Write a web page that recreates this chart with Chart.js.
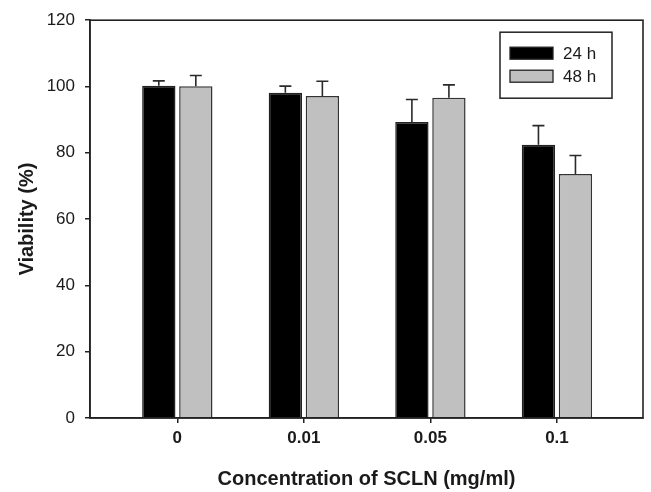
<!DOCTYPE html>
<html>
<head>
<meta charset="utf-8">
<script src="https://cdn.jsdelivr.net/npm/chart.js@4.4.1/dist/chart.umd.min.js"></script>
<style>
  html, body { margin: 0; padding: 0; background: #fff; }
  #wrap { width: 651px; height: 492px; }
</style>
</head>
<body>
<div id="wrap"><canvas id="viabilityChart" width="651" height="492"></canvas></div>
<script>
// Data
const categories = ['0', '0.01', '0.05', '0.1'];
const seriesNames = ['24 h', '48 h'];
const viability24h = [100.2, 98.1, 89.3, 82.4];
const viability48h = [100.1, 97.1, 96.6, 73.6];
const sd24h = [1.5, 2.0, 6.8, 5.8];
const sd48h = [3.2, 4.5, 3.9, 5.6];
const yTicks = [0, 20, 40, 60, 80, 100, 120];

const FONT = "'Liberation Sans', Arial, Helvetica, sans-serif";
const INK = '#1a1a1a';

function toPoints(values, errs) {
  return values.map((v, i) => ({ x: i, y: v, err: errs[i] }));
}

// Upper error bars with caps
const errorBars = {
  id: 'errorBars',
  afterDatasetsDraw(chart) {
    const { ctx, scales: { y } } = chart;
    ctx.save();
    ctx.strokeStyle = '#2a2a2a';
    ctx.lineWidth = 1.6;
    chart.data.datasets.forEach((ds, di) => {
      const meta = chart.getDatasetMeta(di);
      meta.data.forEach((bar, i) => {
        const p = ds.data[i];
        const top = y.getPixelForValue(p.y + p.err);
        ctx.beginPath();
        ctx.moveTo(bar.x, bar.y);
        ctx.lineTo(bar.x, top);
        ctx.moveTo(bar.x - 6, top);
        ctx.lineTo(bar.x + 6, top);
        ctx.stroke();
      });
    });
    ctx.restore();
  }
};

// Box around the plot area
const frame = {
  id: 'frame',
  afterDraw(chart) {
    const { ctx, chartArea: a } = chart;
    ctx.save();
    ctx.strokeStyle = '#222';
    ctx.lineWidth = 1.6;
    ctx.strokeRect(a.left, a.top, a.right - a.left, a.bottom - a.top);
    ctx.restore();
  }
};

// Boxed legend in the upper right corner
const boxLegend = {
  id: 'boxLegend',
  afterDraw(chart) {
    const { ctx, chartArea: a } = chart;
    const right = a.right - 31, top = a.top + 12;
    const w = 112, h = 66;
    ctx.save();
    ctx.strokeStyle = '#222';
    ctx.lineWidth = 1.5;
    ctx.strokeRect(right - w, top, w, h);
    ctx.font = '17px ' + FONT;
    ctx.textBaseline = 'middle';
    chart.data.datasets.forEach((ds, i) => {
      const cy = top + 21 + i * 23;
      ctx.fillStyle = ds.backgroundColor;
      ctx.fillRect(right - w + 10, cy - 6, 43, 12);
      ctx.strokeStyle = '#222';
      ctx.lineWidth = 1.3;
      ctx.strokeRect(right - w + 10, cy - 6, 43, 12);
      ctx.fillStyle = INK;
      ctx.fillText(ds.label, right - w + 63, cy + 1);
    });
    ctx.restore();
  }
};

const ctx = document.getElementById('viabilityChart').getContext('2d');
const chart = new Chart(ctx, {
  type: 'bar',
  data: {
    datasets: [{
      label: seriesNames[0],
      data: toPoints(viability24h, sd24h),
      backgroundColor: '#000000',
      borderColor: '#222222',
      borderWidth: 1.5
    }, {
      label: seriesNames[1],
      data: toPoints(viability48h, sd48h),
      backgroundColor: '#c0c0c0',
      borderColor: '#333333',
      borderWidth: 1.5
    }]
  },
  plugins: [errorBars, frame, boxLegend],
  options: {
    responsive: false,
    animation: false,
    devicePixelRatio: 1,
    layout: { padding: { top: 20, right: 8, left: 0, bottom: 0 } },
    datasets: {
      bar: { categoryPercentage: 0.585, barPercentage: 0.9 }
    },
    scales: {
      x: {
        type: 'linear',
        offset: false,
        min: -0.69,
        max: 3.68,
        afterBuildTicks(scale) {
          scale.ticks = categories.map((c, i) => ({ value: i }));
        },
        afterFit(scale) { scale.height = 74; },
        grid: { offset: false, drawOnChartArea: false, drawTicks: true, tickLength: 5, color: '#222', lineWidth: 1.5 },
        border: { display: true, color: '#222', width: 1.6 },
        ticks: {
          color: INK,
          padding: 5,
          maxRotation: 0,
          font: { family: FONT, size: 17, weight: 'bold' },
          callback: (v) => categories[v]
        },
        title: {
          display: true,
          text: 'Concentration of SCLN (mg/ml)',
          color: INK,
          font: { family: FONT, size: 20, weight: 'bold' },
          padding: { top: 0, bottom: 1 }
        }
      },
      y: {
        min: 0,
        max: 120,
        afterBuildTicks(scale) {
          scale.ticks = yTicks.map(v => ({ value: v }));
        },
        afterFit(scale) { scale.width = 90; },
        grid: { drawOnChartArea: false, drawTicks: true, tickLength: 5, color: '#222', lineWidth: 1.5 },
        border: { display: true, color: '#222', width: 1.6 },
        ticks: {
          color: INK,
          padding: 10,
          font: { family: FONT, size: 17 }
        },
        title: {
          display: true,
          text: 'Viability (%)',
          color: INK,
          font: { family: FONT, size: 20, weight: 'bold' },
          padding: { top: 15, bottom: 0 }
        }
      }
    },
    plugins: {
      legend: { display: false },
      tooltip: { enabled: false }
    }
  }
});
</script>
</body>
</html>
